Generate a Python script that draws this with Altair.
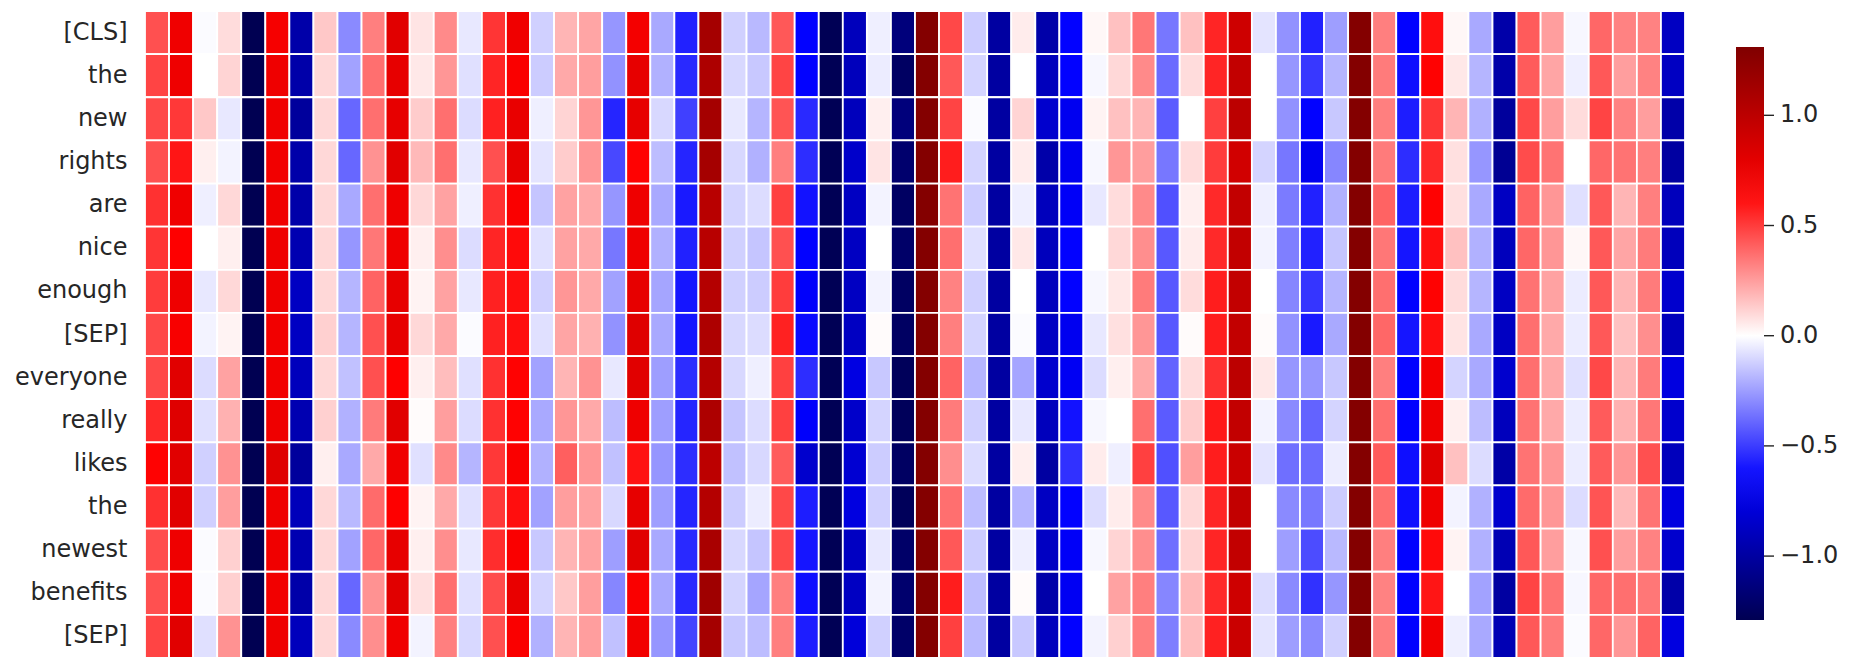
import altair as alt
import pandas as pd

tokens = ["[CLS]", "the", "new", "rights", "are", "nice", "enough", "[SEP]",
          "everyone", "really", "likes", "the", "newest", "benefits", "[SEP]"]

colorbar_ticks = [-1.0, -0.5, 0.0, 0.5, 1.0]

row_cls = [.45, .73, -.01, .09, -1.29, .70, -.97, .14, -.30, .33, .81, .07, .30, -.06, .52, .73,
           -.12, .19, .23, -.27, .71, -.22, -.57, 1.12, -.12, -.18, .43, -.65, -1.28, -.90, -.04, -1.14,
           1.29, .47, -.13, -1.0, .05, -.97, -.65, .02, .16, .35, -.35, .16, .56, .91, -.07, -.28,
           -.57, -.25, 1.29, .33, -.65, .62, .02, -.22, -.97, .42, .25, -.02, .39, .32, .32, -.88]
row_the = [.48, .74, 0, .11, -1.29, .74, -.97, .10, -.24, .37, .78, .06, .27, -.08, .56, .68,
           -.13, .22, .25, -.28, .78, -.20, -.55, 1.08, -.10, -.14, .48, -.65, -1.28, -.90, -.05, -1.23,
           1.29, .43, -.11, -1.0, 0, -.90, -.65, -.02, .10, .30, -.38, .09, .56, .97, 0, -.27,
           -.51, -.19, 1.29, .34, -.62, .65, .06, -.19, -.97, .42, .23, -.04, .43, .25, .32, -.88]
row_new = [.47, .51, .14, -.06, -1.29, .73, -1.02, .10, -.39, .37, .78, .13, .37, -.09, .57, .77,
           -.04, .11, .27, -.56, .78, -.10, -.49, 1.12, -.06, -.19, .44, -.55, -1.28, -.90, .04, -1.14,
           1.29, .48, -.01, -1.0, .11, -.84, -.71, .03, .16, .19, -.42, 0, .49, 1.0, 0, -.28,
           -.65, -.14, 1.29, .33, -.58, .52, .19, -.20, -1.02, .47, .25, .09, .48, .32, .25, -.97]
row_rights = [.45, .60, .04, -.03, -1.29, .72, -.97, .10, -.39, .28, .81, .18, .37, -.06, .45, .78,
              -.07, .13, .27, -.47, .65, -.17, -.56, 1.12, -.10, -.20, .33, -.54, -1.28, -.85, .07, -1.19,
              1.29, .58, -.11, -1.0, .05, -.97, -.71, -.02, .27, .25, -.35, .09, .50, .89, -.11, -.35,
              -.71, -.31, 1.29, .34, -.54, .55, .08, -.27, -1.05, .46, .36, 0, .39, .36, .33, -1.0]
row_are = [.53, .73, -.04, .10, -1.29, .73, -.97, .10, -.22, .37, .74, .10, .24, -.04, .53, .68,
           -.15, .24, .22, -.27, .74, -.22, -.59, 1.02, -.11, -.09, .49, -.61, -1.28, -.88, -.03, -1.23,
           1.29, .36, -.13, -1.0, -.04, -.90, -.68, -.06, .09, .30, -.45, .04, .55, .97, -.04, -.34,
           -.57, -.20, 1.29, .40, -.58, .65, .08, -.22, -.88, .40, .27, -.08, .43, .19, .33, -.90]
row_nice = [.52, .66, 0, .04, -1.29, .74, -.94, .10, -.27, .35, .74, .04, .29, -.09, .56, .63,
            -.08, .24, .22, -.35, .74, -.20, -.57, 1.02, -.12, -.15, .45, -.65, -1.28, -.88, 0, -1.21,
            1.29, .37, -.08, -1.0, .06, -.90, -.65, 0, .10, .29, -.43, .05, .55, .97, -.03, -.33,
            -.57, -.15, 1.29, .35, -.60, .62, .16, -.20, -.90, .39, .27, .02, .43, .23, .34, -.90]
row_enough = [.50, .74, -.06, .10, -1.29, .74, -.88, .10, -.19, .40, .78, .03, .24, -.06, .57, .62,
              -.12, .27, .22, -.24, .78, -.23, -.60, 1.04, -.12, -.13, .50, -.67, -1.28, -.88, -.03, -1.23,
              1.29, .32, -.12, -1.0, 0, -.90, -.65, -.02, .06, .34, -.43, .09, .58, .97, 0, -.31,
              -.52, -.19, 1.29, .37, -.65, .65, .09, -.19, -.88, .36, .24, -.05, .43, .19, .34, -.84]
row_sep1 = [.47, .69, -.03, .03, -1.29, .72, -.88, .12, -.19, .45, .78, .10, .22, -.01, .57, .62,
            -.08, .23, .20, -.28, .82, -.22, -.60, 1.08, -.10, -.09, .57, -.63, -1.28, -.88, .01, -1.23,
            1.29, .33, -.11, -1.0, -.01, -.88, -.71, -.06, .08, .27, -.43, .01, .58, .97, .01, -.28,
            -.59, -.22, 1.29, .39, -.60, .62, .07, -.22, -.88, .37, .22, -.05, .43, .16, .29, -.90]
row_everyone = [.47, .81, -.09, .24, -1.29, .72, -.90, .10, -.16, .45, .66, .04, .17, -.08, .53, .65,
                -.24, .19, .28, -.06, .81, -.25, -.54, 1.04, -.10, -.04, .49, -.54, -1.28, -.76, -.14, -1.26,
                1.29, .40, -.19, -1.0, -.23, -.84, -.70, -.09, .04, .22, -.40, .09, .53, 1.0, .06, -.27,
                -.27, -.14, 1.29, .33, -.65, .71, -.11, -.22, -.84, .37, .22, -.08, .47, .19, .34, -.77]
row_really = [.55, .82, -.08, .20, -1.29, .74, -.94, .12, -.20, .34, .81, .01, .25, -.09, .53, .65,
              -.22, .27, .22, -.17, .74, -.25, -.56, 1.08, -.15, -.09, .49, -.67, -1.28, -.85, -.11, -1.26,
              1.29, .34, -.12, -1.0, -.06, -.90, -.61, -.02, 0, .37, -.42, .13, .59, .97, -.03, -.30,
              -.40, -.11, 1.29, .37, -.65, .74, .04, -.17, -.90, .36, .22, -.05, .42, .20, .35, -.84]
row_likes = [.65, .81, -.12, .28, -1.29, .82, -1.02, .04, -.22, .22, .73, -.08, .30, -.19, .51, .68,
             -.20, .41, .27, -.16, .61, -.27, -.54, 1.00, -.16, -.10, .42, -.84, -1.28, -.82, -.13, -1.23,
             1.29, .29, -.09, -1.0, .04, -1.0, -.53, .05, -.04, .49, -.45, .25, .58, .93, -.07, -.37,
             -.38, -.05, 1.29, .42, -.62, .82, .16, -.09, -.98, .36, .27, -.05, .42, .27, .45, -.90]
row_the2 = [.53, .81, -.12, .25, -1.29, .74, -.91, .10, -.18, .38, .66, .03, .22, -.08, .51, .62,
            -.24, .25, .24, -.10, .78, -.25, -.56, 1.04, -.13, -.05, .47, -.58, -1.28, -.77, -.12, -1.26,
            1.29, .37, -.17, -1.0, -.19, -.88, -.65, -.09, .05, .30, -.43, .10, .56, .97, 0, -.30,
            -.35, -.13, 1.29, .37, -.62, .74, -.03, -.20, -.84, .38, .27, -.09, .44, .18, .36, -.77]
row_newest = [.46, .74, -.01, .12, -1.29, .73, -.94, .10, -.24, .39, .78, .04, .29, -.06, .54, .68,
              -.14, .19, .24, -.25, .81, -.22, -.55, 1.10, -.10, -.15, .47, -.60, -1.28, -.88, -.06, -1.21,
              1.29, .43, -.13, -1.0, -.04, -.88, -.68, -.02, .11, .29, -.37, .11, .56, .97, 0, -.25,
              -.46, -.18, 1.29, .33, -.65, .63, .03, -.20, -.93, .43, .25, -.02, .45, .25, .32, -.84]
row_benefits = [.45, .73, -.01, .12, -1.29, .72, -.97, .10, -.39, .28, .81, .08, .37, -.08, .46, .77,
                -.11, .14, .25, -.31, .68, -.22, -.55, 1.15, -.11, -.23, .33, -.62, -1.28, -.88, -.03, -1.19,
                1.29, .58, -.17, -1.0, .01, -.97, -.70, 0, .24, .33, -.31, .18, .55, .91, -.09, -.30,
                -.53, -.27, 1.29, .32, -.65, .60, 0, -.24, -1.0, .48, .36, -.02, .39, .37, .35, -.97]
row_sep2 = [.48, .81, -.08, .28, -1.29, .74, -.90, .10, -.30, .29, .73, -.03, .33, -.10, .45, .68,
            -.20, .19, .25, -.16, .72, -.27, -.48, 1.12, -.14, -.17, .33, -.58, -1.28, -.79, -.12, -1.21,
            1.29, .49, -.18, -1.0, -.14, -.90, -.65, -.03, .12, .33, -.33, .17, .57, .93, -.07, -.25,
            -.30, -.12, 1.29, .33, -.65, .72, -.04, -.22, -.93, .43, .34, -.01, .39, .27, .40, -.77]

rows = [row_cls, row_the, row_new, row_rights, row_are, row_nice, row_enough, row_sep1,
        row_everyone, row_really, row_likes, row_the2, row_newest, row_benefits, row_sep2]

records = []
for r, vals in enumerate(rows):
    for c, v in enumerate(vals):
        records.append({"row": r, "col": c, "value": v})
df = pd.DataFrame(records)
ticks_df = pd.DataFrame({"tick": colorbar_ticks})

VMIN, VMAX = -1.29, 1.31
label_expr = "[" + ",".join("'" + t + "'" for t in tokens) + "][datum.value]"
legend_label_expr = "datum.value < 0 ? '\u2212' + format(-datum.value, '.1f') : format(datum.value, '.1f')"

FONT = "DejaVu Sans"
TXT = "#262626"

heat = alt.Chart(df).mark_rect(stroke="white", strokeWidth=1.8).encode(
    x=alt.X("col:O", axis=None, scale=alt.Scale(paddingInner=0, paddingOuter=0)),
    y=alt.Y("row:O", title=None,
            scale=alt.Scale(paddingInner=0, paddingOuter=0),
            axis=alt.Axis(labelExpr=label_expr, domain=False, ticks=False, tickSize=0,
                          labelPadding=18, labelFontSize=24, labelColor=TXT, labelFont=FONT,
                          labelLimit=300)),
    color=alt.Color("value:Q",
                    scale=alt.Scale(domain=[VMIN, -0.655, 0, 0.655, VMAX],
                                    range=["#000052", "#0000ff", "#ffffff", "#ff0000", "#800000"],
                                    interpolate="rgb"),
                    legend=alt.Legend(title=None, orient="none", legendX=1591, legendY=36,
                                      direction="vertical", gradientLength=573,
                                      gradientThickness=28, gradientStrokeWidth=0,
                                      values=colorbar_ticks,
                                      labelExpr=legend_label_expr, labelFontSize=24,
                                      labelFont=FONT, labelColor=TXT, labelOffset=16,
                                      labelOverlap=False, padding=0, offset=0)),
)

cbar_ticks = alt.Chart(ticks_df).mark_rule(color=TXT, strokeWidth=1.4).encode(
    y=alt.Y("tick:Q", axis=None, scale=alt.Scale(domain=[VMIN, VMAX], range=[609, 36])),
    x=alt.value(1619),
    x2=alt.value(1629),
)

chart = alt.layer(heat, cbar_ticks).resolve_scale(y="independent").properties(
    width=1540, height=647,
    autosize=alt.AutoSizeParams(type="none"),
    padding={"left": 137, "top": 3, "right": 159, "bottom": 4},
).configure_view(stroke=None).configure_legend(gradientVerticalMaxLength=700)

chart.save("out.html", embed_options={"renderer": "svg", "actions": False})
